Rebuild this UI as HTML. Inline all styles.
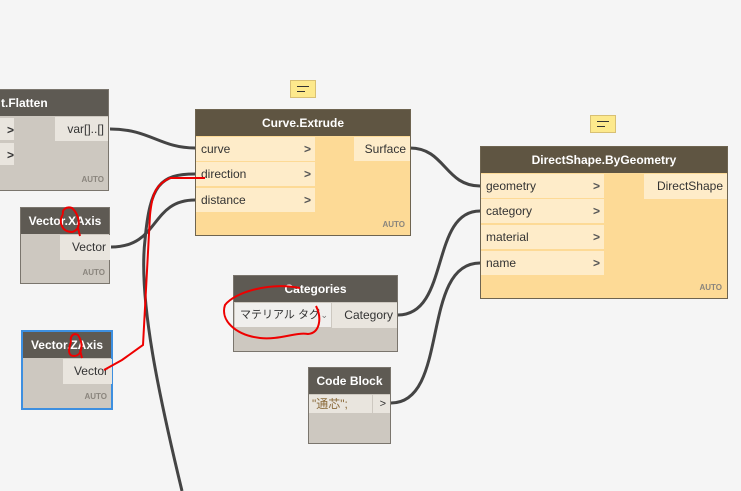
<!DOCTYPE html>
<html><head><meta charset="utf-8"><style>
body{margin:0;width:741px;height:491px;background:#f5f5f5;overflow:hidden;position:relative;font-family:"Liberation Sans","Noto Sans CJK JP",sans-serif;}
.n{position:absolute;background:#cdc8c0;border:1px solid #7a756d;box-sizing:border-box;}
.h{position:absolute;left:0;right:0;top:0;height:26px;background:#5e5a53;color:#fff;font-weight:bold;font-size:12px;text-align:center;line-height:26px;white-space:nowrap;}
.o{position:absolute;background:#e9e5de;color:#333;font-size:12px;text-align:right;padding-right:4px;box-sizing:border-box;line-height:24px;white-space:nowrap;}
.a{position:absolute;font-size:8px;font-weight:bold;color:#8a857d;}
.y{background:#fdda96;border-color:#6e6450;}
.y .h{background:#5f5542;}
.in{position:absolute;background:#feecc9;color:#333;font-size:12px;line-height:24px;padding-left:5px;box-sizing:border-box;}
.ch{position:absolute;right:4px;top:0;font-weight:bold;color:#555;}
.y .o{background:#feecc9;}
.cm{position:absolute;width:26px;height:18px;background:#fde98c;border:1px solid #d8c074;box-sizing:border-box;}
.cm:before,.cm:after{content:"";position:absolute;left:6px;height:1px;background:#333;}
.cm:before{top:5px;width:12px}.cm:after{top:10px;width:8px}
</style></head><body>
<svg width="741" height="491" style="position:absolute;left:0;top:0" fill="none">
<g stroke="#444" stroke-width="3">
<path d="M110,129 C150,129 160,148 195,148"/>
<path d="M111,247 C160,247 150,200 195,200"/>
<path d="M195,174 C160,174 150,185 145,240 C138,300 160,400 182,491"/>
<path d="M410,148 C445,148 445,186 480,186"/>
<path d="M398,315 C450,315 430,211 480,211"/>
<path d="M391,403 C450,403 420,263 480,263"/>
</g>
</svg>
<div class="cm" style="left:290px;top:80px"></div>
<div class="cm" style="left:590px;top:115px"></div>
<div class="n" style="left:-2px;top:89px;width:111px;height:102px"><div class="h" style="text-align:left;padding-left:2px">t.Flatten</div>
<div class="o" style="left:0;top:28px;width:15px;height:22px;text-align:left;padding-left:8px;font-weight:bold">&gt;</div>
<div class="o" style="left:0;top:53px;width:15px;height:22px;text-align:left;padding-left:8px;font-weight:bold">&gt;</div>
<div class="o" style="left:56px;top:27px;width:53px;height:24px">var[]..[]</div><div class="a" style="right:4px;top:85px">AUTO</div></div>
<div class="n y" style="left:195px;top:109px;width:216px;height:127px"><div class="h">Curve.Extrude</div>
<div class="in" style="left:0;top:27px;width:119px;height:24px">curve<span class="ch">&gt;</span></div>
<div class="in" style="left:0;top:52px;width:119px;height:24px">direction<span class="ch">&gt;</span></div>
<div class="in" style="left:0;top:78px;width:119px;height:24px">distance<span class="ch">&gt;</span></div>
<div class="o" style="left:158px;top:27px;width:56px;height:24px">Surface</div><div class="a" style="right:5px;top:110px">AUTO</div></div>
<div class="n" style="left:20px;top:207px;width:90px;height:77px"><div class="h">Vector.XAxis</div>
<div class="o" style="left:39px;top:27px;width:50px;height:25px">Vector</div><div class="a" style="right:4px;top:60px">AUTO</div></div>
<div class="n" style="left:21px;top:330px;width:92px;height:80px;border:2px solid #3d8fe0"><div class="h">Vector.ZAxis</div>
<div class="o" style="left:40px;top:27px;width:49px;height:25px">Vector</div><div class="a" style="right:4px;top:60px">AUTO</div></div>
<div class="n y" style="left:480px;top:146px;width:248px;height:153px"><div class="h">DirectShape.ByGeometry</div>
<div class="in" style="left:0;top:27px;width:123px;height:24px">geometry<span class="ch">&gt;</span></div>
<div class="in" style="left:0;top:52px;width:123px;height:24px">category<span class="ch">&gt;</span></div>
<div class="in" style="left:0;top:78px;width:123px;height:24px">material<span class="ch">&gt;</span></div>
<div class="in" style="left:0;top:104px;width:123px;height:24px">name<span class="ch">&gt;</span></div>
<div class="o" style="left:163px;top:27px;width:83px;height:25px">DirectShape</div><div class="a" style="right:5px;top:136px">AUTO</div></div>
<div class="n" style="left:233px;top:275px;width:165px;height:77px"><div class="h">Categories</div>
<div class="o" style="left:1px;top:27px;width:96px;height:24px;background:#f0efed;text-align:left;padding-left:5px;font-size:11px">マテリアル タグ<span style="position:absolute;right:3px;font-size:9px;color:#777">⌄</span></div>
<div class="o" style="left:98px;top:27px;width:65px;height:25px">Category</div></div>
<div class="n" style="left:308px;top:367px;width:83px;height:77px"><div class="h">Code Block</div>
<div class="o" style="left:0;top:27px;width:63px;height:18px;line-height:18px;text-align:left;padding-left:3px;color:#8a6a3a">"通芯";</div>
<div class="o" style="left:64px;top:27px;width:17px;height:18px;line-height:18px;font-size:11px">&gt;</div></div>
<svg width="741" height="491" style="position:absolute;left:0;top:0" fill="none">
<g stroke="#e00" stroke-width="2">
<path d="M205,178 L170,178 C155,185 152,195 150,215 L143,345 L122,360 L104,370"/>
<path d="M63,214 C58,222 62,232 72,232 C82,230 80,215 72,208 C66,206 62,210 63,214 M78,228 L80,236"/>
<path d="M71,342 C68,350 68,356 74,356 C82,356 84,344 78,335 C72,332 70,338 71,342 M80,350 L82,358"/>
<path d="M300,288 C270,282 235,292 225,305 C220,320 235,335 260,338 C280,340 295,332 308,334 C320,333 322,318 316,306"/>
</g>
</svg>
</body></html>
